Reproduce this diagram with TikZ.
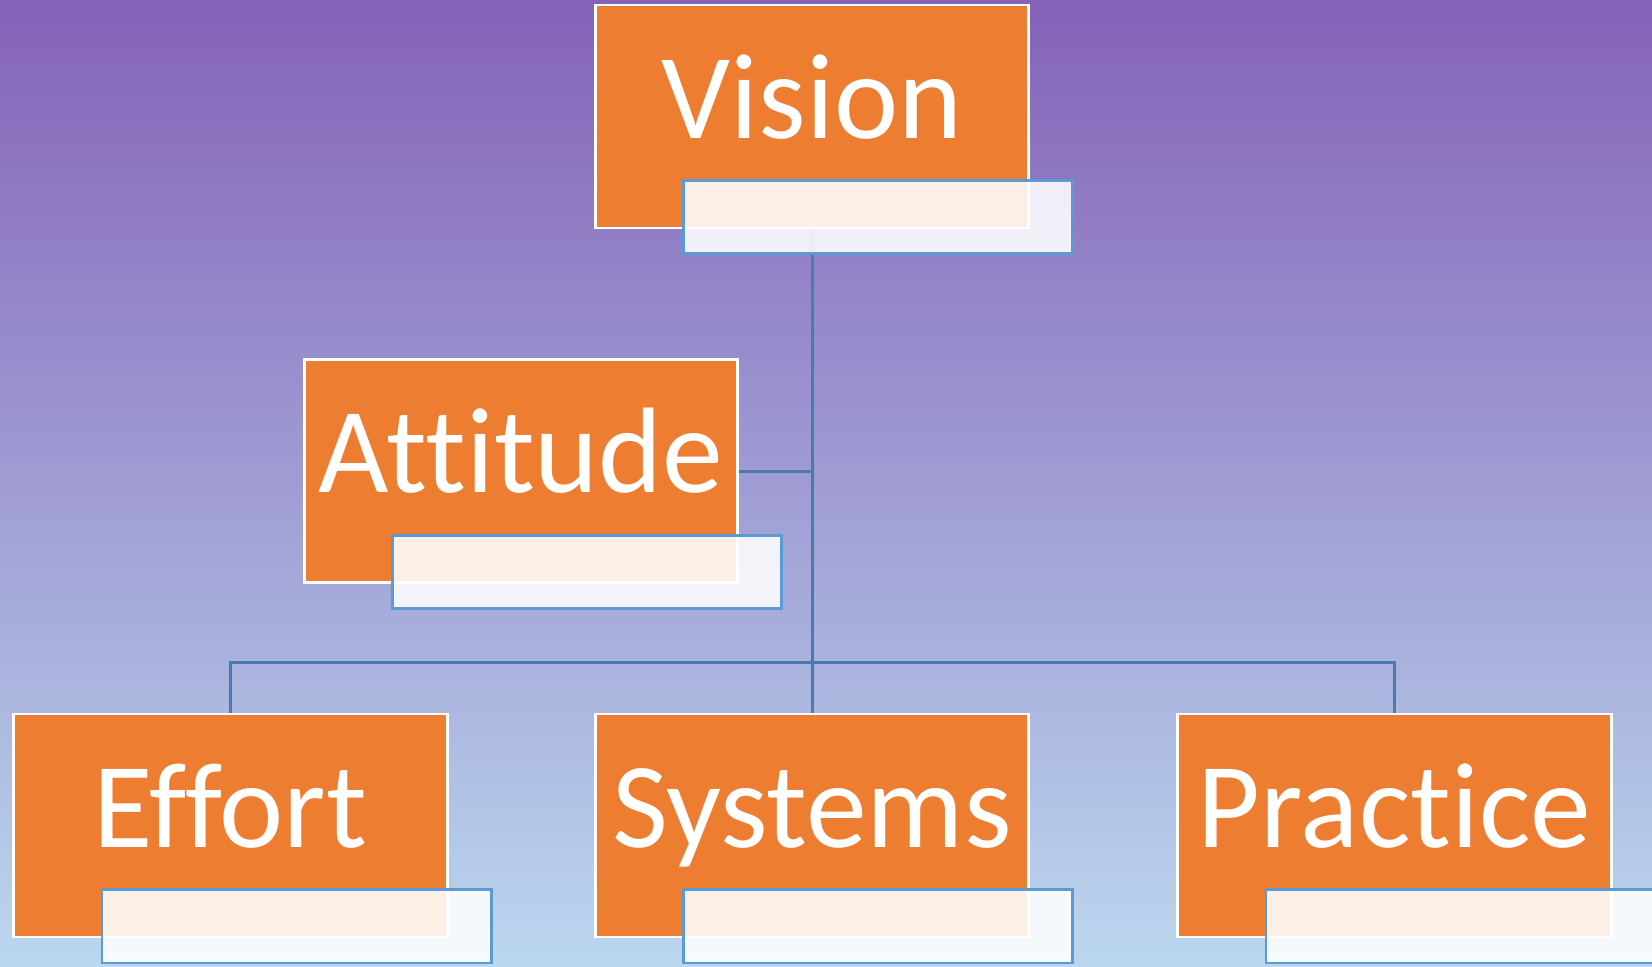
\documentclass[tikz,border=0pt]{standalone}
\usepackage{fontspec}
\setmainfont{Carlito}[RawFeature={-liga;-clig;-dlig}]
\usepackage{tikz}

\definecolor{boxorange}{HTML}{ED7D31}
\definecolor{lblblue}{HTML}{5B9BD5}
\definecolor{linkblue}{HTML}{4A7AB0}
\definecolor{bgtop}{HTML}{8462B8}
\definecolor{bgmid}{HTML}{A3A6D9}
\definecolor{bgbot}{HTML}{BBD7EF}

\begin{document}
\begin{tikzpicture}
[%%%%%%%%%%%%%%%%%%%%%%%%%%%%%%
x=0.01cm, y=-0.01cm,
box/.style={rectangle,fill=boxorange,draw=white,line width=0.8pt,
  minimum width=4.33cm,inner sep=0pt,text height=1.33cm,text depth=0.90cm,
  text=white,font=\fontsize{34.6}{40}\selectfont},
lbl/.style={rectangle,draw=lblblue,line width=0.8pt,fill=white,fill opacity=0.88,
  minimum width=3.89cm,minimum height=0.73cm,anchor=north west},
link/.style={draw=linkblue,line width=0.85pt},
]%%%%%%%%%%%%%%%%%%%%%%%%%%%%%%

\shade[top color=bgtop,middle color=bgmid,bottom color=bgbot] (0,0) rectangle (1652,966);
\useasboundingbox (0,0) rectangle (1652,966);

\node[box] (vision) at (812,116.5){Vision};
\node[box] (attitude) at (521,471){Attitude};
\node[box] (effort) at (230.5,825.5){Effort};
\node[box] (systems) at (812,825.5){Systems};
\node[box] (practice) at (1394.5,825.5){Practice};

\coordinate (bus) at (812,662);

\draw[link] (vision.south) -- (systems.north);
\draw[link] (attitude.east) -- (attitude.east -| vision.south);
\draw[link] (effort.north) |- (bus) -| (practice.north);

% empty text boxes
\node[lbl] (visionlbl) at ([xshift=0.88cm,yshift=0.50cm]vision.south west){};
\node[lbl] (attitudelbl) at ([xshift=0.88cm,yshift=0.50cm]attitude.south west){};
\node[lbl] (effortlbl) at ([xshift=0.88cm,yshift=0.50cm]effort.south west){};
\node[lbl] (systemslbl) at ([xshift=0.88cm,yshift=0.50cm]systems.south west){};
\node[lbl] (practicelbl) at ([xshift=0.88cm,yshift=0.50cm]practice.south west){};
\end{tikzpicture}
\end{document}
